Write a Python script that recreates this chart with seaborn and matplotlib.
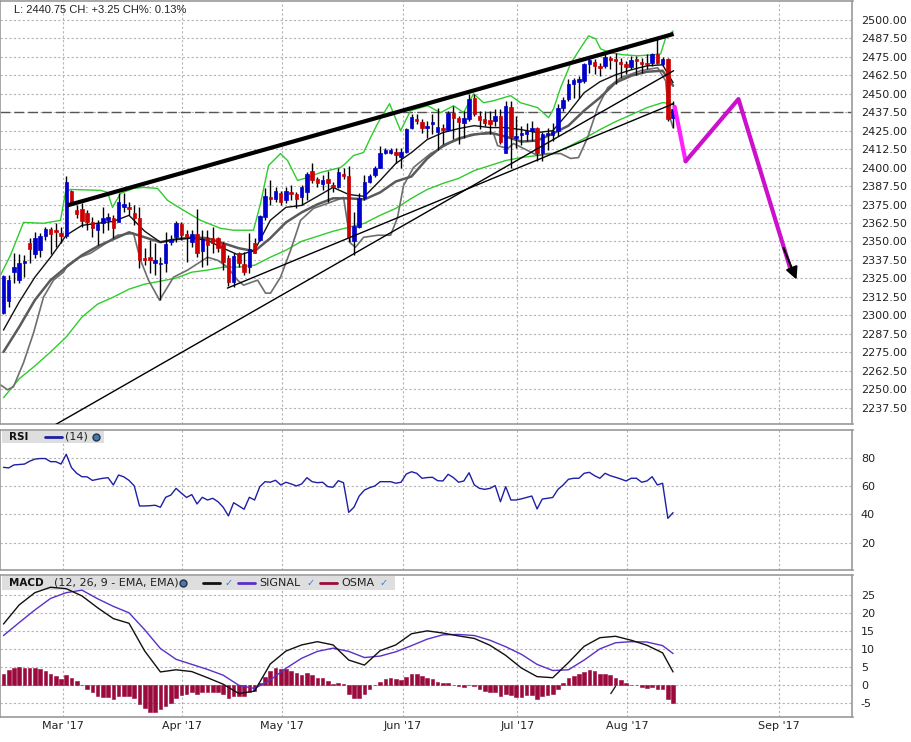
import numpy as np
import pandas as pd
import matplotlib
matplotlib.use("Agg")
import matplotlib.pyplot as plt
from matplotlib.patches import Rectangle
import seaborn as sns

# ---- candles, one per session (day index 0..128) ----
opens = [2301.5, 2310.0, 2329.2, 2323.8, 2335.3, 2348.8, 2341.3, 2344.0, 2353.5, 2358.2,
         2357.5, 2355.5, 2353.5, 2383.9, 2371.0, 2371.7, 2369.0, 2363.0, 2357.5, 2362.3,
         2364.3, 2365.6, 2363.5, 2373.2, 2373.1, 2369.0, 2365.6, 2338.7, 2339.3, 2335.3,
         2334.6, 2335.3, 2349.5, 2352.8, 2361.6, 2354.8, 2349.5, 2354.8, 2343.4, 2352.2,
         2352.2, 2352.2, 2348.0, 2338.7, 2322.5, 2342.0, 2335.0, 2332.6, 2348.8, 2351.0,
         2366.3, 2379.8, 2379.0, 2382.5, 2377.8, 2383.2, 2381.8, 2379.8, 2383.2, 2398.0,
         2392.0, 2388.6, 2392.6, 2387.9, 2386.6, 2396.0, 2394.0, 2350.1, 2359.6, 2379.2,
         2390.0, 2394.7, 2400.0, 2409.6, 2410.2, 2410.9, 2407.5, 2410.9, 2427.0, 2433.0,
         2431.1, 2427.0, 2429.8, 2424.4, 2427.0, 2425.7, 2437.2, 2433.8, 2430.5, 2433.1,
         2447.3, 2435.2, 2433.1, 2432.5, 2431.8, 2435.2, 2410.2, 2441.3, 2420.3, 2422.4,
         2423.0, 2425.0, 2427.0, 2409.6, 2422.4, 2422.4, 2425.0, 2440.6, 2446.6, 2456.8,
         2458.0, 2458.8, 2470.3, 2471.6, 2469.0, 2469.0, 2474.3, 2473.7, 2471.6, 2470.3,
         2468.2, 2473.7, 2471.6, 2471.0, 2471.0, 2477.0, 2470.3, 2473.7, 2433.8]
highs = [2327.5, 2327.2, 2342.0, 2341.3, 2340.7, 2352.2, 2356.2, 2355.5, 2359.6, 2359.6,
         2362.3, 2359.6, 2394.0, 2385.0, 2374.5, 2375.8, 2371.0, 2366.3, 2364.3, 2373.0,
         2369.0, 2367.7, 2382.5, 2382.5, 2376.5, 2374.4, 2373.0, 2345.4, 2350.8, 2348.8,
         2339.3, 2356.2, 2354.2, 2363.6, 2363.0, 2357.5, 2357.5, 2371.7, 2357.5, 2357.5,
         2359.6, 2352.8, 2349.5, 2340.7, 2342.0, 2342.7, 2342.7, 2355.5, 2352.2, 2367.7,
         2386.0, 2391.3, 2386.6, 2383.9, 2386.6, 2388.0, 2383.2, 2388.0, 2396.7, 2403.4,
         2393.3, 2394.7, 2398.0, 2390.0, 2400.0, 2400.0, 2401.0, 2369.7, 2382.5, 2394.7,
         2396.0, 2401.4, 2414.3, 2413.6, 2413.6, 2413.6, 2413.6, 2427.0, 2436.5, 2436.5,
         2433.0, 2431.8, 2436.5, 2440.6, 2429.8, 2438.5, 2442.0, 2435.2, 2438.5, 2450.0,
         2450.0, 2438.5, 2438.5, 2438.5, 2439.9, 2440.0, 2445.3, 2445.3, 2435.0, 2428.4,
         2430.5, 2431.8, 2427.7, 2424.0, 2427.0, 2430.0, 2443.3, 2448.0, 2460.0, 2460.8,
         2462.0, 2471.0, 2475.7, 2473.7, 2471.0, 2477.0, 2475.7, 2477.7, 2474.3, 2472.3,
         2475.7, 2475.7, 2474.3, 2477.0, 2477.7, 2487.0, 2475.0, 2474.3, 2445.3]
lows = [2301.0, 2305.6, 2321.8, 2321.8, 2325.8, 2335.3, 2338.7, 2339.3, 2350.8, 2341.3,
        2346.0, 2348.8, 2352.0, 2374.5, 2365.6, 2359.6, 2357.5, 2352.8, 2347.4, 2355.5,
        2357.5, 2352.0, 2362.9, 2369.7, 2367.7, 2360.9, 2331.9, 2333.9, 2328.5, 2327.0,
        2310.3, 2329.2, 2347.4, 2349.5, 2350.8, 2336.0, 2346.0, 2339.3, 2332.6, 2334.0,
        2342.0, 2342.7, 2330.6, 2319.7, 2319.0, 2332.6, 2327.0, 2328.5, 2342.0, 2350.0,
        2364.3, 2374.5, 2376.5, 2374.5, 2375.8, 2377.8, 2372.4, 2374.5, 2377.8, 2389.3,
        2386.6, 2384.6, 2376.5, 2383.2, 2386.0, 2392.6, 2349.5, 2340.7, 2358.9, 2377.8,
        2389.3, 2393.3, 2399.4, 2409.0, 2409.0, 2403.4, 2399.4, 2410.2, 2426.4, 2429.8,
        2423.7, 2420.3, 2423.0, 2411.6, 2416.3, 2425.0, 2419.7, 2416.3, 2420.3, 2431.8,
        2435.2, 2426.4, 2428.4, 2423.0, 2428.4, 2416.3, 2409.6, 2400.0, 2413.6, 2415.0,
        2418.3, 2418.3, 2404.8, 2404.8, 2411.6, 2418.0, 2421.7, 2438.5, 2445.3, 2447.3,
        2447.3, 2457.5, 2464.2, 2463.5, 2462.2, 2467.6, 2467.0, 2456.8, 2460.8, 2463.5,
        2467.0, 2462.9, 2464.2, 2467.0, 2468.9, 2470.3, 2469.0, 2431.8, 2427.0]
closes = [2326.5, 2323.8, 2332.6, 2335.3, 2336.6, 2344.7, 2352.2, 2353.5, 2358.2, 2354.8,
          2356.2, 2353.5, 2390.0, 2375.8, 2368.3, 2363.6, 2363.0, 2358.9, 2361.6, 2365.6,
          2366.3, 2358.9, 2376.5, 2375.2, 2371.7, 2365.6, 2337.3, 2337.3, 2337.3, 2337.3,
          2335.3, 2348.1, 2351.5, 2362.3, 2354.2, 2352.8, 2354.8, 2342.0, 2351.5, 2347.4,
          2348.8, 2345.4, 2336.0, 2322.5, 2340.0, 2335.3, 2329.2, 2345.0, 2342.3, 2367.0,
          2380.5, 2378.5, 2384.0, 2376.5, 2383.9, 2381.8, 2379.0, 2386.6, 2396.0, 2391.3,
          2389.3, 2391.3, 2389.3, 2386.6, 2396.7, 2394.0, 2352.8, 2360.3, 2379.2, 2390.0,
          2394.0, 2400.0, 2410.2, 2411.6, 2411.6, 2408.2, 2410.9, 2426.4, 2434.5, 2431.8,
          2427.0, 2428.4, 2431.1, 2427.7, 2425.7, 2437.2, 2433.8, 2431.1, 2433.8, 2446.6,
          2436.5, 2432.5, 2430.5, 2429.8, 2435.2, 2417.0, 2442.0, 2421.0, 2421.7, 2423.7,
          2425.0, 2427.0, 2409.6, 2423.0, 2423.7, 2425.0, 2440.6, 2446.0, 2456.8, 2459.5,
          2460.0, 2470.3, 2473.0, 2469.0, 2467.5, 2475.0, 2473.0, 2472.3, 2470.3, 2468.2,
          2473.0, 2472.3, 2470.3, 2470.3, 2477.0, 2471.0, 2473.7, 2433.1, 2439.9]

# ---- overlay lines read every third session ----
grid_day = list(range(0, 127, 3)) + [128]
ema_fast = [2290.0, 2309.0, 2325.8, 2339.3, 2354.2, 2360.9, 2362.3, 2363.6, 2367.7, 2356.9,
            2349.5, 2351.5, 2352.2, 2350.8, 2345.4, 2340.7, 2344.0, 2364.3, 2373.1, 2374.4,
            2380.5, 2386.6, 2381.8, 2380.5, 2391.3, 2402.8, 2410.2, 2419.0, 2423.7, 2426.4,
            2428.4, 2427.1, 2427.1, 2425.7, 2423.7, 2425.0, 2437.2, 2450.7, 2458.1, 2462.8,
            2466.2, 2468.9, 2469.6, 2457.5]
sma_mid = [2275.2, 2292.1, 2310.3, 2323.8, 2332.6, 2340.7, 2346.7, 2351.5, 2356.2, 2352.8,
           2349.5, 2351.5, 2352.8, 2352.2, 2348.8, 2345.4, 2343.4, 2352.2, 2362.9, 2369.7,
           2375.1, 2379.2, 2379.2, 2378.5, 2383.2, 2390.6, 2394.0, 2406.1, 2414.9, 2419.7,
           2422.4, 2423.7, 2421.0, 2417.6, 2418.3, 2423.0, 2428.4, 2438.6, 2447.3, 2457.5,
           2462.2, 2464.9, 2465.6, 2455.4]
ma_slow = [2244.2, 2257.0, 2265.7, 2275.2, 2285.3, 2298.8, 2307.6, 2312.3, 2317.7, 2321.1,
           2323.1, 2325.2, 2329.2, 2330.6, 2332.6, 2332.6, 2333.9, 2339.3, 2344.1, 2350.1,
           2353.5, 2356.9, 2359.6, 2362.3, 2367.7, 2372.4, 2379.2, 2385.2, 2389.3, 2392.7,
           2398.0, 2401.4, 2404.8, 2406.8, 2408.2, 2409.5, 2414.2, 2419.7, 2425.7, 2431.1,
           2435.8, 2440.6, 2444.0, 2443.3]

# bands read at their turning points
band_up_day = [-0.57, 1.34, 3.82, 7.65, 10.9, 11.85, 12.81, 18.55, 19.89, 20.84, 22.37, 24.86,
               26.77, 29.45, 31.36, 34.42, 37.67, 41.49, 43.98, 47.8, 49.14, 50.67, 52.96, 54.3,
               56.21, 58.13, 60.61, 64.44, 65.39, 66.92, 68.83, 70.17, 71.51, 73.8, 75.91, 77.82,
               81.07, 83.56, 86.04, 87.95, 89.87, 91.78, 93.69, 96.94, 98.85, 102.1, 104.21,
               105.16, 106.5, 108.41, 110.33, 111.85, 113.19, 114.15, 116.06, 118.55, 121.22,
               124.28, 125.62, 126.58, 128.0]
band_up = [2327.2, 2340.7, 2362.9, 2362.3, 2364.3, 2383.2, 2385.2, 2384.6, 2383.2, 2373.1,
           2382.5, 2385.9, 2386.6, 2385.9, 2377.8, 2371.1, 2364.3, 2358.9, 2357.6, 2357.6,
           2375.8, 2401.4, 2409.5, 2404.8, 2391.3, 2393.3, 2396.7, 2400.1, 2402.8, 2408.2,
           2410.2, 2420.3, 2429.8, 2443.3, 2425.0, 2438.6, 2441.9, 2437.2, 2441.9, 2437.2,
           2450.0, 2443.9, 2445.3, 2448.7, 2443.9, 2440.6, 2433.8, 2439.9, 2454.1, 2470.3,
           2481.1, 2489.2, 2487.2, 2480.4, 2477.7, 2476.4, 2475.7, 2476.4, 2477.0, 2487.8,
           2492.5]
band_low_day = [-0.57, 0.76, 1.91, 3.82, 5.74, 7.65, 9.56, 11.47, 12.24, 14.15, 16.63, 19.89,
                21.8, 24.86, 26.2, 27.72, 29.83, 31.36, 32.5, 35.18, 39.0, 40.92, 42.83, 44.74,
                45.89, 48.57, 50.1, 51.05, 52.96, 54.88, 56.79, 59.27, 62.52, 65.01, 66.35,
                67.3, 68.83, 71.51, 74.0, 75.33, 76.48, 78.39, 81.64, 85.47, 87.95, 89.29,
                93.69, 94.46, 96.37, 97.51, 100.19, 102.1, 104.02, 106.5, 108.41, 109.94,
                111.66, 113.58, 115.49, 117.97, 121.8, 125.05, 126.58, 127.15, 128.0]
band_low = [2252.9, 2249.6, 2251.6, 2267.8, 2288.0, 2312.3, 2323.8, 2329.2, 2333.9, 2338.7,
            2342.0, 2349.5, 2354.2, 2355.5, 2337.3, 2323.8, 2310.3, 2319.1, 2325.8, 2330.6,
            2339.3, 2337.3, 2332.6, 2323.8, 2320.4, 2323.8, 2315.0, 2315.0, 2325.8, 2344.0,
            2364.3, 2372.4, 2376.5, 2379.8, 2348.8, 2346.1, 2352.8, 2354.2, 2354.2, 2366.3,
            2387.9, 2400.1, 2409.5, 2416.9, 2420.3, 2422.4, 2423.0, 2414.9, 2412.9, 2416.3,
            2411.6, 2408.2, 2409.5, 2409.5, 2406.2, 2406.8, 2420.3, 2440.6, 2454.1, 2460.8,
            2465.6, 2467.6, 2458.8, 2436.5, 2427.1]

# drawn objects: trend lines and projected path (day, price)
trend_thick = ([12.2, 128.1], [2374.4, 2490.5])
trend_a = ([42.8, 128.1], [2318.4, 2443.3])
trend_b = ([9.9, 128.1], [2225.9, 2465.6])
level_price = 2437.5
path_day = [128.3, 130.4, 140.5, 150.5]
path_price = [2441.2, 2404.3, 2446.4, 2330.6]
arrow_from = (148.9, 2347.4)
arrow_to = (151.8, 2322.5)

# ---- RSI (14), one per session ----
rsi = [73.2, 72.8, 74.9, 75.2, 75.5, 77.5, 79.0, 79.4, 79.4, 77.2, 77.2, 75.5, 82.4, 73.0,
       69.0, 66.6, 66.5, 64.0, 64.8, 65.5, 65.9, 60.8, 67.8, 66.5, 64.0, 60.1, 46.0, 46.0,
       46.2, 46.5, 45.1, 52.1, 53.7, 58.4, 55.0, 52.0, 54.0, 47.4, 52.1, 50.2, 51.4, 49.0,
       45.1, 39.0, 48.3, 46.0, 43.7, 52.1, 50.2, 59.6, 63.1, 62.7, 64.1, 60.8, 62.7, 61.5,
       60.1, 61.5, 65.9, 63.1, 62.4, 62.7, 59.6, 59.2, 63.8, 62.4, 41.5, 45.1, 53.0, 57.2,
       58.9, 60.1, 63.1, 63.1, 63.1, 62.0, 62.7, 68.5, 70.1, 69.0, 65.5, 66.0, 66.2, 63.8,
       63.6, 68.3, 66.0, 62.7, 63.6, 69.4, 60.8, 58.4, 57.7, 58.4, 60.3, 49.0, 59.6, 50.2,
       50.2, 51.0, 52.0, 53.0, 43.9, 50.9, 51.4, 52.0, 57.7, 60.8, 64.8, 65.5, 65.5, 69.0,
       69.7, 67.3, 65.5, 69.0, 67.3, 66.2, 65.0, 63.6, 65.5, 65.5, 62.7, 63.6, 66.6, 60.8,
       62.0, 37.3, 41.3]

# ---- MACD (12, 26, 9) ----
macd = [17.0, 22.3, 25.7, 27.2, 26.8, 24.8, 21.5, 18.5, 17.2, 9.5, 3.7, 4.3, 3.8, 2.1, 0.3,
        -2.3, -1.6, 5.9, 9.5, 11.2, 12.1, 11.2, 7.0, 5.6, 9.6, 11.2, 14.3, 15.1, 14.5, 13.7,
        13.0, 11.1, 8.3, 4.8, 2.4, 2.1, 6.3, 10.8, 13.2, 13.6, 12.5, 11.1, 9.0, 3.7]
signal = [13.8, 17.4, 20.9, 24.1, 25.7, 26.4, 24.0, 21.9, 20.1, 15.4, 10.2, 7.2, 5.8, 4.4,
          2.8, 0.0, -0.9, 1.5, 4.7, 7.5, 9.4, 10.3, 9.4, 7.7, 8.1, 9.3, 11.0, 12.8, 14.0, 14.1,
          13.8, 12.5, 10.7, 8.6, 5.8, 4.1, 4.3, 7.0, 10.1, 11.8, 12.1, 12.0, 11.0, 8.8]
osma = [3.1, 4.2, 4.9, 5.1, 4.7, 4.9, 4.7, 4.4, 4.0, 3.1, 2.6, 1.7, 2.9, 2.1, 1.2, 0.0, -1.1,
        -2.0, -3.0, -3.2, -3.2, -3.9, -3.0, -3.0, -3.0, -3.4, -5.3, -6.4, -7.3, -7.3, -6.7,
        -5.7, -4.8, -3.4, -2.7, -2.5, -2.0, -2.5, -2.0, -1.8, -1.8, -1.8, -2.5, -3.6, -3.0,
        -3.0, -3.0, -1.8, -1.6, 0.7, 2.3, 4.0, 4.9, 4.4, 4.4, 4.0, 3.5, 2.9, 3.3, 2.8, 2.1,
        1.9, 1.2, 0.3, 0.6, 0.3, -2.5, -3.6, -3.4, -2.3, -1.1, 0.0, 1.0, 1.7, 1.9, 1.7, 1.4,
        2.3, 3.1, 3.1, 2.6, 1.9, 1.7, 1.0, 0.6, 0.5, 0.2, -0.1, -0.5, 0.0, -0.2, -1.1, -1.6,
        -1.9, -1.9, -3.1, -2.3, -2.8, -3.2, -3.2, -2.8, -2.8, -3.7, -3.1, -2.8, -2.3, -0.9,
        0.5, 1.9, 2.6, 3.0, 3.7, 4.2, 3.9, 3.2, 3.2, 2.8, 2.1, 1.4, 0.6, 0.2, 0.0, -0.5, -0.7,
        -0.5, -0.9, -1.1, -3.7, -4.9]
macd_mark = ([116.1, 117.0], [-2.3, -0.3])

month_day = [11.3, 34.2, 53.3, 76.4, 98.2, 119.2, 148.2]
month_labels = ["Mar '17", "Apr '17", "May '17", "Jun '17", "Jul '17", "Aug '17", "Sep '17"]
header = "L: 2440.75 CH: +3.25 CH%: 0.13%"

df = pd.DataFrame({"open": opens, "high": highs, "low": lows, "close": closes, "rsi": rsi,
                   "osma": osma})
df["day"] = np.arange(len(df))

sns.set_theme(style="white")
plt.rcParams["font.family"] = ["DejaVu Sans"]
plt.rcParams["axes.unicode_minus"] = False

W, H = 912, 742
fig = plt.figure(figsize=(W / 100, H / 100), dpi=100)


def panel(top, bottom):
    return fig.add_axes([0.5 / W, 1 - bottom / H, 852 / W, (bottom - top) / H])


ax = panel(1, 424)
ax_rsi = panel(430, 570)
ax_macd = panel(575, 717)

for a in (ax, ax_rsi, ax_macd):
    a.set_facecolor("white")
    a.set_xlim(-0.57, 162.3)
    for s in a.spines.values():
        s.set_color("#9a9a9a")
        s.set_linewidth(1.2)
    a.yaxis.tick_right()
    a.tick_params(axis="y", length=0, pad=6, labelsize=8, colors="#222222")
    a.tick_params(axis="x", length=0, pad=3, labelsize=8, colors="#222222")
    a.set_xticks(month_day)
    a.grid(True, color="#b4b4b4", linestyle=(0, (2, 2)), linewidth=0.8)
    a.set_axisbelow(True)

# ---- price panel ----
ax.set_ylim(2226.4, 2512.8)
yt = np.arange(2237.5, 2500.1, 12.5)
ax.set_yticks(yt)
ax.set_yticklabels([f"{v:.2f}" for v in yt])
ax.set_xticklabels([])

ax.axhline(level_price, color="#555555", linewidth=1, linestyle=(0, (7, 3)), zorder=1.5)

sns.lineplot(x=grid_day, y=ma_slow, ax=ax, color="#2ecc2e", linewidth=1, estimator=None,
             sort=False, zorder=2)
sns.lineplot(x=band_up_day, y=band_up, ax=ax, color="#2ecc2e", linewidth=1, estimator=None,
             sort=False, zorder=2)
sns.lineplot(x=band_low_day, y=band_low, ax=ax, color="#6e6e6e", linewidth=1.2,
             estimator=None, sort=False, zorder=2)
sns.lineplot(x=grid_day, y=sma_mid, ax=ax, color="#5a5a5a", linewidth=1.8, estimator=None,
             sort=False, zorder=2)
sns.lineplot(x=grid_day, y=ema_fast, ax=ax, color="#111111", linewidth=1, estimator=None,
             sort=False, zorder=2.2)

up = df["close"] >= df["open"]
body_col = np.where(up, "#0000cc", "#cc0000")
ax.vlines(df["day"], df["low"], df["high"], color="black", linewidth=1, zorder=3)
ax.bar(df["day"], df["close"] - df["open"], bottom=df["open"], width=0.66,
       color=body_col, edgecolor=body_col, linewidth=0.5, zorder=4)

ax.plot(*trend_thick, color="black", linewidth=3, solid_capstyle="butt", zorder=5)
ax.plot(*trend_a, color="black", linewidth=1, zorder=5)
ax.plot(*trend_b, color="black", linewidth=1, zorder=5)

ax.plot(path_day[:2], path_price[:2], color="#ff22ff", linewidth=3, zorder=6)
ax.plot(path_day[1:], path_price[1:], color="#cc11cc", linewidth=3, zorder=6)
ax.annotate("", xy=arrow_to, xytext=arrow_from,
            arrowprops=dict(arrowstyle="-|>", color="black", lw=1.5, mutation_scale=18),
            zorder=7)

ax.text(14 / 852, 1 - 9 / 423, header, transform=ax.transAxes, fontsize=8,
        family=["Liberation Sans", "DejaVu Sans"], color="#222222", va="center", ha="left")

# ---- RSI panel ----
ax_rsi.set_ylim(0.9, 99.5)
ax_rsi.set_yticks([20, 40, 60, 80])
ax_rsi.set_xticklabels([])
sns.lineplot(data=df, x="day", y="rsi", ax=ax_rsi, color="#1f1fa6", linewidth=1,
             estimator=None, zorder=3)
ax_rsi.set_xlabel("")
ax_rsi.set_ylabel("")
ax_rsi.add_patch(Rectangle((0.002, 0.905), 0.119, 0.088, transform=ax_rsi.transAxes,
                           facecolor="#dedede", edgecolor="none", zorder=1))
ax_rsi.text(9 / 852, 0.95, "RSI", transform=ax_rsi.transAxes, fontsize=7.5,
            fontweight="bold", va="center", color="#111111", zorder=4)
ax_rsi.plot([44 / 852, 61 / 852], [0.95, 0.95], transform=ax_rsi.transAxes,
            color="#1f1fa6", linewidth=2, zorder=4)
ax_rsi.text(65 / 852, 0.95, "(14)", transform=ax_rsi.transAxes, fontsize=8,
            va="center", color="#222222", zorder=4)
ax_rsi.plot([96 / 852], [0.95], transform=ax_rsi.transAxes, marker="o", markersize=5,
            color="#4b78a8", markeredgecolor="#1d3350", zorder=4)

# ---- MACD panel ----
ax_macd.set_ylim(-8.8, 30.6)
ax_macd.set_yticks([-5, 0, 5, 10, 15, 20, 25])
ax_macd.set_xticklabels(month_labels)
ax_macd.bar(df["day"], df["osma"], width=0.7, color="#9b0a3c", edgecolor="#9b0a3c",
            linewidth=0.4, zorder=2)
sns.lineplot(x=grid_day, y=signal, ax=ax_macd, color="#5a2fc8", linewidth=1,
             estimator=None, sort=False, zorder=3)
sns.lineplot(x=grid_day, y=macd, ax=ax_macd, color="#111111", linewidth=1,
             estimator=None, sort=False, zorder=3.5)
ax_macd.plot(*macd_mark, color="#222222", linewidth=1, zorder=4)
ax_macd.set_xlabel("")
ax_macd.set_ylabel("")

ax_macd.add_patch(Rectangle((0.002, 0.894), 0.461, 0.099, transform=ax_macd.transAxes,
                            facecolor="#dedede", edgecolor="none", zorder=1))
ty = 0.944
tr = ax_macd.transAxes
ax_macd.text(9 / 852, ty, "MACD", transform=tr, fontsize=7.5, fontweight="bold",
             va="center", color="#111111", zorder=2.5)
ax_macd.text(54 / 852, ty, "(12, 26, 9 - EMA, EMA)", transform=tr, fontsize=8,
             va="center", color="#222222", zorder=2.5)
ax_macd.plot([183 / 852], [ty], transform=tr, marker="o", markersize=5, color="#4b78a8",
             markeredgecolor="#1d3350", zorder=4)
legend_items = [(203, "#111111", "", 228), (238, "#5a2fc8", "SIGNAL", 310),
                (320, "#9b0a3c", "OSMA", 383)]
for x0, col, name, xc in legend_items:
    ax_macd.plot([x0 / 852, (x0 + 17) / 852], [ty, ty], transform=tr, color=col,
                 linewidth=2, zorder=4)
    if name:
        ax_macd.text((x0 + 21) / 852, ty, name, transform=tr, fontsize=8, va="center",
                     color="#222222", zorder=4)
    ax_macd.text(xc / 852, ty, "\u2713", transform=tr, fontsize=7, va="center",
                 ha="center", color="#2f7de1", fontweight="bold", zorder=4)

fig.savefig("out.png", dpi=100)
